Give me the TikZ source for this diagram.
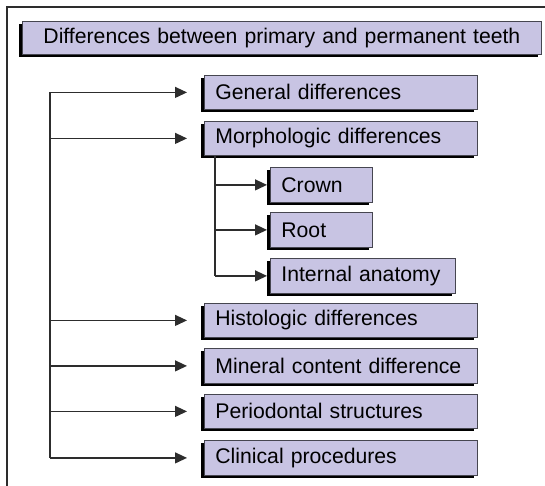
\documentclass[tikz,border=0pt]{standalone}
\usepackage{fontspec}
\setmainfont{Liberation Sans}
\usetikzlibrary{arrows.meta,shadows,positioning}
\definecolor{boxfill}{RGB}{200,196,227}
\definecolor{boxline}{RGB}{70,70,80}
\definecolor{conncol}{RGB}{45,45,45}
\tikzset{
  tbox/.style={draw=boxline, line width=0.8pt, fill=boxfill, anchor=north west,
    inner xsep=11pt, inner ysep=0pt, align=left, font=\fontsize{21.2}{23}\selectfont,
    execute at begin node=\mbox\bgroup, execute at end node=\egroup,
    drop shadow={shadow xshift=-3pt, shadow yshift=-3pt, fill=black, opacity=1}},
  mainbox/.style={tbox, text width=251pt, minimum height=34pt},
  conn/.style={draw=conncol, line width=1.2pt},
  arr/.style={conn, -{Triangle[length=12pt,width=11pt]}}
}
\begin{document}
\begin{tikzpicture}[x=1pt,y=-1pt]
\useasboundingbox (0,0) rectangle (545,485);
% frame
\draw[line width=1.5pt, draw=conncol] (7,490) -- (7,7) -- (550,7);
% title
\node[tbox, text width=497pt, minimum height=33pt, align=center] (title) at (22,21) {Differences between primary and permanent teeth};
% main boxes
\node[mainbox] (gen) at (204,75) {General differences};
\node[mainbox] (morph) at (204,121) {Morphologic differences};
\node[tbox, text width=80pt, minimum height=35pt] (crown) at (270,167) {Crown};
\node[tbox, text width=80pt, minimum height=35pt] (root) at (270,212) {Root};
\node[tbox, text width=163pt, minimum height=35pt] (inter) at (270,258) {Internal anatomy};
\node[mainbox] (hist) at (204,303) {Histologic differences};
\node[mainbox, minimum height=35pt] (mine) at (204,348) {Mineral content difference};
\node[mainbox] (perio) at (204,394) {Periodontal structures};
\node[mainbox, minimum height=35pt] (clin) at (204,440) {Clinical procedures};
% trunks
\coordinate (trunk) at (50,0);
\coordinate (subtrunk) at (215,0);
\draw[conn] (trunk |- gen.west) -- (trunk |- clin.west);
\draw[conn] (subtrunk |- morph.south) -- (subtrunk |- inter.west);
\foreach \n in {gen,morph,hist,mine,perio,clin}{
  \draw[arr] (trunk |- \n.west) -- ([xshift=-17pt]\n.west);
}
\foreach \n in {crown,root,inter}{
  \draw[arr] (subtrunk |- \n.west) -- ([xshift=-3pt]\n.west);
}
\end{tikzpicture}
\end{document}
